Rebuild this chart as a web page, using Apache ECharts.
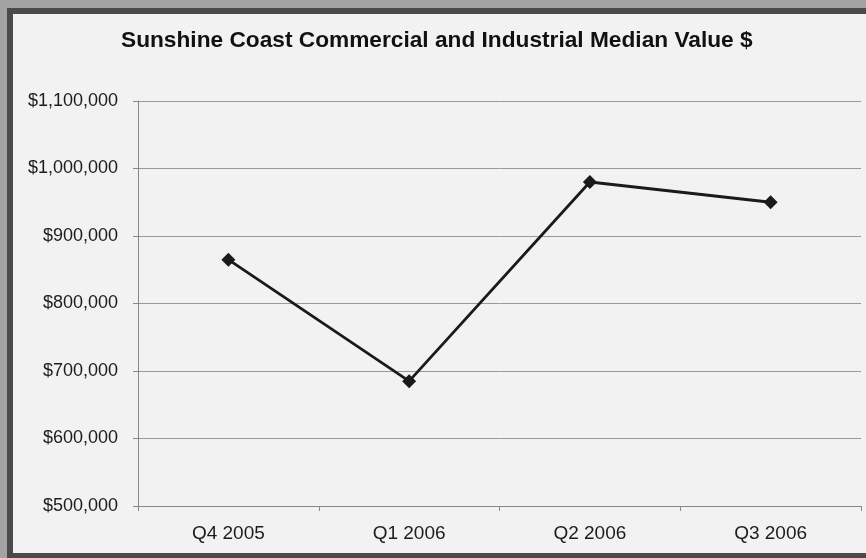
<!DOCTYPE html>
<html>
<head>
<meta charset="utf-8">
<script src="https://cdn.jsdelivr.net/npm/echarts@6/dist/echarts.min.js"></script>
<style>
  html, body { margin: 0; padding: 0; background: #a3a3a3; overflow: hidden; }
  #frame {
    position: absolute; left: 7px; top: 8px; width: 880px; height: 539px;
    border: 6px solid #4a4a4a; background: #f2f2f2;
  }
  #main { position: absolute; left: 0; top: 0; width: 866px; height: 558px; }
</style>
</head>
<body>
<div id="frame"></div>
<div id="main"></div>
<script>
// quarters on the x axis
var quarters = ['Q4 2005', 'Q1 2006', 'Q2 2006', 'Q3 2006'];
// median value
var medianValue = [865000, 685000, 980000, 950000];
// y axis range
var yMin = 500000;
var yMax = 1100000;
var yStep = 100000;

var myChart = echarts.init(document.getElementById('main'));

myChart.setOption({
    backgroundColor: 'transparent',
    title: {
        text: 'Sunshine Coast Commercial and Industrial Median Value $',
        left: 116,
        top: 24,
        textStyle: {
            fontFamily: 'Liberation Sans, Arial, sans-serif',
            fontSize: 22.7,
            fontWeight: 'bold',
            color: '#111'
        }
    },
    grid: { left: 138, right: 5, top: 101, bottom: 52 },
    xAxis: {
        type: 'category',
        data: quarters,
        boundaryGap: true,
        axisLine: { lineStyle: { color: '#888', width: 1 } },
        axisTick: { show: true, length: 5, lineStyle: { color: '#888' } },
        axisLabel: {
            margin: 18,
            fontFamily: 'Liberation Sans, Arial, sans-serif',
            fontSize: 19,
            color: '#1c1c1c'
        },
        splitLine: { show: false }
    },
    yAxis: {
        type: 'value',
        min: yMin,
        max: yMax,
        interval: yStep,
        axisLine: { show: true, lineStyle: { color: '#888', width: 1 } },
        axisTick: { show: true, length: 5, lineStyle: { color: '#888' } },
        axisLabel: {
            margin: 20,
            fontFamily: 'Liberation Sans, Arial, sans-serif',
            fontSize: 18,
            color: '#1c1c1c',
            formatter: function (v) {
                return '$' + v.toLocaleString('en-US');
            }
        },
        splitLine: { show: true, lineStyle: { color: '#999', width: 1 } }
    },
    series: [{
        name: 'Median Value',
        type: 'line',
        data: medianValue,
        symbol: 'diamond',
        symbolSize: 14,
        itemStyle: { color: '#1a1a1a' },
        lineStyle: { color: '#1a1a1a', width: 2.8 },
        animation: false
    }]
});
</script>
</body>
</html>
